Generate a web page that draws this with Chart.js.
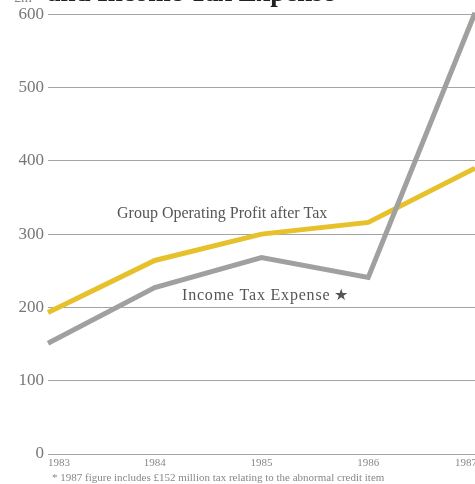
<!DOCTYPE html>
<html lang="en">
<head>
<meta charset="UTF-8">
<title>Group Operating Profit after Tax and Income Tax Expense</title>
<script src="https://cdn.jsdelivr.net/npm/chart.js"></script>
<style>
  html, body { margin: 0; padding: 0; background: #fff; }
  #wrap { width: 475px; height: 484px; position: relative; }
</style>
</head>
<body>
<div id="wrap"><canvas id="profitChart" width="475" height="484"></canvas></div>
<script>
// £m, 1983-1987
const years = ['1983', '1984', '1985', '1986', '1987'];
const operatingProfit = [193, 264, 300, 316, 390];
const incomeTax = [151, 227, 268, 241, 602];
const yTicks = [0, 100, 200, 300, 400, 500, 600];

const serif = '"Liberation Serif", "DejaVu Serif", serif';

// headline, series captions, year labels and footnote
const captions = {
  id: 'captions',
  afterDraw(chart) {
    const ctx = chart.ctx;
    const x = chart.scales.x;
    const y = chart.scales.y;
    ctx.save();

    ctx.textBaseline = 'alphabetic';
    ctx.textAlign = 'left';
    ctx.fillStyle = '#888';
    ctx.font = '14px ' + serif;
    ctx.fillText('£m', 14, 2);
    ctx.fillStyle = '#222';
    ctx.font = 'bold 27px ' + serif;
    ctx.fillText('and Income Tax Expense', 47, 1);

    ctx.fillStyle = '#555';
    ctx.font = '16px ' + serif;
    ctx.fillText('Group Operating Profit after Tax', 117, 218);
    ctx.letterSpacing = '0.8px';
    ctx.fillText('Income Tax Expense\u2009\u2605', 182, 300);
    ctx.letterSpacing = '0px';

    ctx.fillStyle = '#888';
    ctx.font = '11px ' + serif;
    ctx.textBaseline = 'top';
    years.forEach((yr, i) => {
      const px = x.getPixelForValue(i);
      ctx.textAlign = i === 0 ? 'left' : (i === years.length - 1 ? 'right' : 'center');
      ctx.fillText(yr, i === years.length - 1 ? px + 2 : px, y.bottom + 4);
    });

    ctx.textAlign = 'left';
    ctx.font = '11px ' + serif;
    ctx.fillText('* 1987 figure includes £152 million tax relating to the abnormal credit item', 52, 473);
    ctx.restore();
  }
};

new Chart(document.getElementById('profitChart'), {
  type: 'line',
  data: {
    labels: years,
    datasets: [
      {
        label: 'Income Tax Expense',
        data: incomeTax,
        borderColor: '#a0a09e',
        borderWidth: 5,
        pointRadius: 0,
        tension: 0,
        clip: false
      },
      {
        label: 'Group Operating Profit after Tax',
        data: operatingProfit,
        borderColor: '#e6c12b',
        borderWidth: 5,
        pointRadius: 0,
        tension: 0,
        clip: false
      }
    ]
  },
  options: {
    responsive: false,
    animation: false,
    layout: { padding: { top: 13, right: 0, bottom: 0, left: 0 } },
    plugins: { legend: { display: false }, tooltip: { enabled: false } },
    scales: {
      x: {
        offset: false,
        grid: { display: false },
        border: { display: false },
        ticks: { display: false },
        afterFit(scale) { scale.height = 30; }
      },
      y: {
        min: 0,
        max: 600,
        afterBuildTicks(scale) { scale.ticks = yTicks.map(v => ({ value: v })); },
        afterFit(scale) { scale.width = 48; },
        border: { display: false },
        grid: { color: '#a4a4a4', lineWidth: 1, drawTicks: false },
        ticks: {
          color: '#777',
          padding: 4,
          font: { family: serif, size: 17 }
        }
      }
    }
  },
  plugins: [captions]
});
</script>
</body>
</html>
